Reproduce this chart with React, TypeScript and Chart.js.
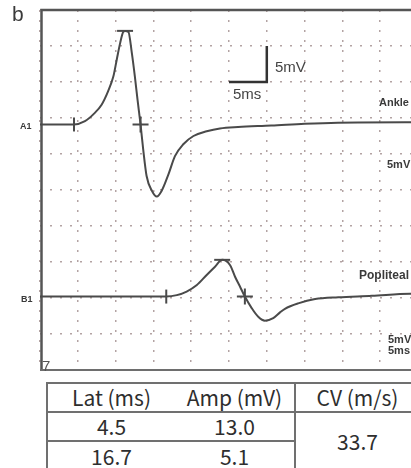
import React, { useEffect, useRef } from "react";
import { Chart, registerables } from "chart.js";

Chart.register(...registerables);

// ---- Data (ms / mV) ----
// A1 = Ankle stimulation, B1 = Popliteal stimulation (amplitude relative to each baseline)
const a1Time = [0, 4.5, 5.95, 7.05, 8.15, 9.0, 9.7, 10.15, 10.6, 11.0, 11.25, 11.7, 12.15, 12.55, 12.9, 13.3, 13.65, 14.1, 14.8, 15.45, 16.1, 17.0, 17.85, 18.95, 20.3, 22.05, 23.8, 26.2, 30.6, 35.0, 39.4, 48.3, 50];
const a1Amp = [0, 0, 0.45, 1.4, 2.75, 4.6, 6.65, 9.0, 11.3, 12.85, 13.0, 12.85, 9.9, 6.65, 3.45, 0, -3.45, -7.15, -9.2, -10.0, -9.2, -6.9, -4.4, -2.75, -1.6, -0.95, -0.55, -0.35, -0.15, 0.1, 0.25, 0.3, 0.3];

const b1Time = [0, 16.7, 18.1, 19.4, 20.75, 22.05, 23.15, 24.1, 25.15, 25.8, 26.45, 27.1, 28.0, 28.9, 29.75, 30.85, 31.75, 32.4, 34.15, 36.4, 39.45, 43.9, 48.95, 50];
const b1Amp = [0, 0, 0.2, 0.7, 1.6, 3.0, 4.15, 5.1, 4.35, 2.75, 1.4, 0, -1.6, -2.85, -3.35, -3.0, -2.2, -1.7, -0.95, -0.35, -0.1, 0.1, 0.4, 0.4];

const traceBaselines = [34.1, 10.2]; // A1, B1 baseline levels on the 0–50 mV screen
const latencies = [4.5, 16.7];
const amplitudes = [13.0, 5.1];
const peakTimes = [11.25, 24.1];
const crossTimes = [13.3, 27.1];
const conductionVelocity = 33.7;

const scaleBarTime = [25, 30, 30];
const scaleBarAmp = [40, 40, 45];

const tableHeaders = ["Lat (ms)", "Amp (mV)", "CV (m/s)"];

const TRACE = "#4a4a4a";

const toPoints = (t: number[], v: number[], base = 0) => t.map((x, i) => ({ x, y: v[i] + base }));

const framePlugin = {
  id: "frameAndLabels",
  beforeDatasetsDraw(chart: any) {
    const { ctx, chartArea: a } = chart;
    ctx.save();
    // frame
    ctx.strokeStyle = "#555";
    ctx.lineWidth = 2.5;
    ctx.beginPath();
    ctx.moveTo(a.left + 1.5, a.bottom);
    ctx.lineTo(a.left + 1.5, a.top);
    ctx.lineTo(a.right + 20, a.top);
    ctx.stroke();
    ctx.strokeStyle = "#6e6e6e";
    ctx.lineWidth = 2;
    ctx.beginPath();
    ctx.moveTo(a.left, a.bottom);
    ctx.lineTo(a.right + 20, a.bottom);
    ctx.stroke();

    ctx.fillStyle = "#3a3a3a";
    ctx.textBaseline = "alphabetic";
    ctx.textAlign = "left";
    ctx.font = "21px 'Liberation Sans', Arial, sans-serif";
    ctx.fillText("b", 12, 21);

    ctx.font = "bold 9px 'Liberation Sans', Arial, sans-serif";
    ctx.fillText("A1", 20, 129);
    ctx.fillText("B1", 21, 302);

    ctx.font = "bold 11px 'Liberation Sans', Arial, sans-serif";
    ctx.fillText("Ankle", 379, 106);
    ctx.fillText("5mV", 387, 168);
    ctx.fillText("5mV", 388, 343);
    ctx.fillText("5ms", 388, 354);
    ctx.font = "bold 12px 'Liberation Sans', Arial, sans-serif";
    ctx.fillText("Popliteal", 359, 279);

    ctx.font = "15px 'Liberation Sans', Arial, sans-serif";
    ctx.fillStyle = "#444";
    ctx.fillText("5mV", 275, 72);
    ctx.fillText("5ms", 233, 99);

    ctx.font = "15px 'Liberation Sans', Arial, sans-serif";
    ctx.fillStyle = "#555";
    ctx.fillText("7", 42, 371);
    ctx.restore();
  },
};

export default function App() {
  const ref = useRef<HTMLCanvasElement>(null);

  useEffect(() => {
    const [baseA, baseB] = traceBaselines;
    const chart = new Chart(ref.current as HTMLCanvasElement, {
      type: "line",
      data: {
        datasets: [
          {
            data: toPoints(a1Time, a1Amp, baseA),
            borderColor: TRACE,
            borderWidth: 2,
            pointRadius: 0,
            cubicInterpolationMode: "monotone",
          },
          {
            data: toPoints(b1Time, b1Amp, baseB),
            borderColor: TRACE,
            borderWidth: 2,
            pointRadius: 0,
            cubicInterpolationMode: "monotone",
          },
          {
            data: toPoints(scaleBarTime, scaleBarAmp),
            borderColor: "#333",
            borderWidth: 2.5,
            pointRadius: 0,
            tension: 0,
          },
          {
            // onset (latency) markers
            data: latencies.map((x, i) => ({ x, y: traceBaselines[i] })),
            showLine: false,
            pointStyle: "line",
            pointRotation: 90,
            pointRadius: 7,
            pointBorderWidth: 2,
            pointBorderColor: TRACE,
          },
          {
            // peak markers
            data: peakTimes.map((x, i) => ({ x, y: traceBaselines[i] + amplitudes[i] })),
            showLine: false,
            pointStyle: "line",
            pointRadius: 8,
            pointBorderWidth: 2,
            pointBorderColor: TRACE,
          },
          {
            // baseline crossing markers
            data: crossTimes.map((x, i) => ({ x, y: traceBaselines[i] })),
            showLine: false,
            pointStyle: "cross",
            pointRadius: 8,
            pointBorderWidth: 2,
            pointBorderColor: TRACE,
          },
        ] as any,
      },
      options: {
        responsive: false,
        animation: false,
        devicePixelRatio: 1,
        layout: { padding: { left: 40, top: 10, right: 12, bottom: 8 } },
        plugins: { legend: { display: false }, tooltip: { enabled: false } },
        scales: {
          x: {
            type: "linear",
            min: 0,
            max: 50,
            ticks: { display: false, stepSize: 5 },
            grid: { drawTicks: false, color: "#b3a3a3", lineWidth: 1.5 },
            border: { display: false, dash: [2, 8] },
          },
          y: {
            type: "linear",
            min: 0,
            max: 50,
            ticks: { display: false, stepSize: 5 },
            grid: { drawTicks: false, color: "#b3a3a3", lineWidth: 1.5 },
            border: { display: false, dash: [2, 8] },
          },
        },
      } as any,
      plugins: [framePlugin],
    });
    return () => chart.destroy();
  }, []);

  const line = "2px solid #707070";
  const cell: React.CSSProperties = {
    padding: 0,
    textAlign: "center",
    verticalAlign: "middle",
    lineHeight: 1,
  };

  return (
    <div style={{ position: "fixed", left: 0, top: 0, width: 411, height: 468, overflow: "hidden", background: "#fff" }}>
      <canvas ref={ref} width={430} height={380} style={{ position: "absolute", left: 0, top: 0, width: 430, height: 380 }} />
      <table
        style={{
          position: "absolute",
          left: 46,
          top: 382,
          width: 372,
          borderCollapse: "collapse",
          tableLayout: "fixed",
          fontFamily: "'Noto Sans CJK JP', 'Noto Sans', sans-serif",
          fontSize: 21,
          color: "#2e2e2e",
        }}
      >
        <colgroup>
          <col style={{ width: 128 }} />
          <col style={{ width: 120 }} />
          <col style={{ width: 124 }} />
        </colgroup>
        <tbody>
          <tr style={{ height: 29 }}>
            <td style={{ ...cell, borderTop: line, borderLeft: line, borderBottom: line }}>{tableHeaders[0]}</td>
            <td style={{ ...cell, borderTop: line, borderBottom: line }}>{tableHeaders[1]}</td>
            <td style={{ ...cell, borderTop: line, borderBottom: line, borderLeft: line }}>{tableHeaders[2]}</td>
          </tr>
          <tr style={{ height: 29 }}>
            <td style={{ ...cell, borderLeft: line, borderBottom: line }}>{latencies[0].toFixed(1)}</td>
            <td style={{ ...cell, borderBottom: line }}>{amplitudes[0].toFixed(1)}</td>
            <td rowSpan={2} style={{ ...cell, borderLeft: line }}>{conductionVelocity.toFixed(1)}</td>
          </tr>
          <tr style={{ height: 29 }}>
            <td style={{ ...cell, borderLeft: line }}>{latencies[1].toFixed(1)}</td>
            <td style={cell}>{amplitudes[1].toFixed(1)}</td>
          </tr>
        </tbody>
      </table>
    </div>
  );
}
